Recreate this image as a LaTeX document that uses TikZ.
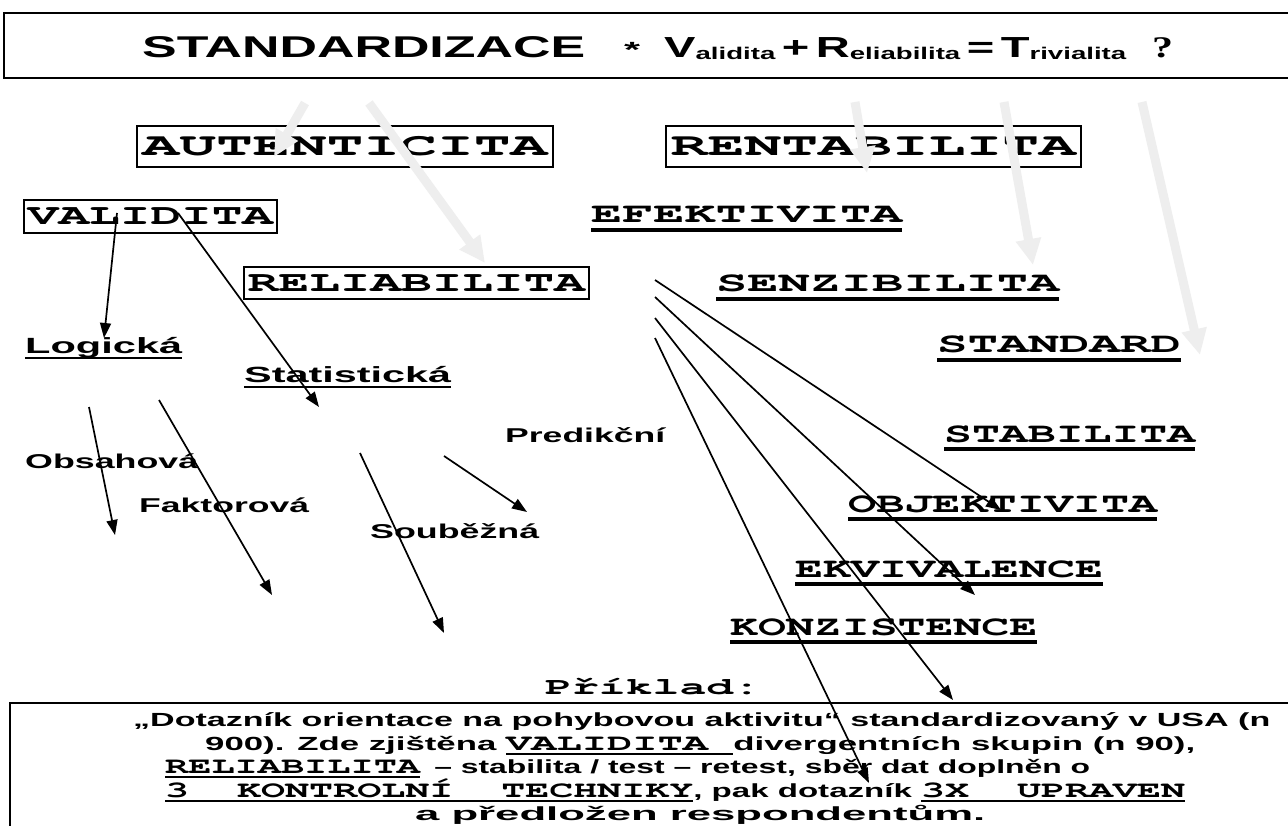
\documentclass[tikz,border=0pt]{standalone}
\usepackage{fontspec}
\setmainfont{Liberation Sans}
\newfontfamily\cour{texgyrecursor}[Extension=.otf, UprightFont=*-regular, BoldFont=*-bold]
\newfontfamily\tms{Liberation Serif}
\usepackage{graphicx}
\usetikzlibrary{arrows.meta}
\definecolor{ghostgray}{RGB}{238,238,238}
\newcommand{\fitw}[2]{\resizebox{#1}{\height}{#2}}
\newcommand{\ulx}[1]{\setbox0\hbox{#1}\rlap{\rule[-5pt]{\wd0}{2.4pt}}\box0}
\newcommand{\monoseg}[1]{{\cour\bfseries\fontsize{23}{23}\selectfont #1}}
\newcommand{\hbig}[1]{{\fontsize{29}{29}\selectfont #1}}
\newcommand{\hsub}[1]{\raisebox{-2pt}{\fontsize{17}{17}\selectfont #1}}
\tikzset{
  framed/.style ={draw, line width=1.4pt, inner sep=0pt,
                  font=\cour\bfseries\fontsize{32}{32}\selectfont},
  word/.style   ={anchor=base west, inner sep=0pt,
                  font=\bfseries\fontsize{20}{20}\selectfont},
  bigword/.style={word, font=\bfseries\fontsize{22}{22}\selectfont},
  mword/.style  ={anchor=base west, inner sep=0pt,
                  font=\cour\bfseries\fontsize{28}{28}\selectfont},
  txtline/.style={anchor=base west, inner sep=0pt,
                  font=\bfseries\fontsize{19}{19}\selectfont},
  uline/.style  ={line width=3.2pt},
  arr/.style    ={-{Triangle[length=15pt,width=11pt]}, line width=1.7pt},
  ghost/.style  ={-{Triangle[length=26pt,width=24pt]}, line width=9pt, ghostgray},
}

\begin{document}
\begin{tikzpicture}[x=1pt, y=-1pt]
  \fill[white] (0,0) rectangle (1288,826);
  \useasboundingbox (0,0) rectangle (1288,826);

  \draw[line width=1.6pt] (1295,13) -| (4,78) -- (1295,78);
  \node[word, font=\bfseries\fontsize{30}{30}\selectfont] (title) at (142,58) {\fitw{443pt}{STANDARDIZACE}};
  \node[word, font=\bfseries\fontsize{22}{22}\selectfont] (star)  at (624,58) {\fitw{16pt}{*}};
  \node[word] (formula) at (664,58)
    {\fitw{462pt}{\hbig{V}\hsub{alidita}\hspace{4pt}\hbig{+}\hspace{4pt}\hbig{R}\hsub{eliabilita}\hspace{4pt}\hbig{=}\hspace{4pt}\hbig{T}\hsub{rivialita}}};
  \node[word, font=\tms\bfseries\fontsize{30}{30}\selectfont] (qmark) at (1152,58) {\fitw{21pt}{?}};

  \node[framed, minimum width=416pt, minimum height=41pt] (auth)  at (345,146.5) {\fitw{405pt}{AUTENTICITA}};
  \node[framed, minimum width=415pt, minimum height=41pt] (rent)  at (873.5,146.5) {\fitw{405pt}{RENTABILITA}};
  \node[framed, minimum width=253pt, minimum height=33pt,
        font=\cour\bfseries\fontsize{29}{29}\selectfont] (valid) at (150.5,216.5) {\fitw{245pt}{VALIDITA}};
  \node[framed, minimum width=345pt, minimum height=32pt,
        font=\cour\bfseries\fontsize{29}{29}\selectfont] (relia) at (416.5,283) {\fitw{337pt}{RELIABILITA}};

  \node[mword] (efek) at (591,223) {\fitw{311pt}{EFEKTIVITA}};
  \node[mword] (senz) at (716,292) {\fitw{343pt}{SENZIBILITA}};
  \node[mword] (stdd) at (937,353) {\fitw{244pt}{STANDARD}};
  \node[mword] (stab) at (944,442) {\fitw{251pt}{STABILITA}};
  \node[mword] (objk) at (848,512) {\fitw{309pt}{OBJEKTIVITA}};
  \node[mword] (ekvi) at (795,577) {\fitw{308pt}{EKVIVALENCE}};
  \node[mword] (konz) at (730,635) {\fitw{307pt}{KONZISTENCE}};

  \node[bigword] (logic) at (25,353)  {\fitw{157pt}{Logická}};
  \node[bigword] (stat)  at (244,382) {\fitw{207pt}{Statistická}};
  \node[word] (pred) at (505,442) {\fitw{160pt}{Predikční}};
  \node[word] (obsa) at (25,468)  {\fitw{173pt}{Obsahová}};
  \node[word] (fakt) at (139,512) {\fitw{170pt}{Faktorová}};
  \node[word] (soub) at (370,538) {\fitw{169pt}{Souběžná}};

  \draw[uline] ([yshift=-7pt]efek.base west) -- ([yshift=-7pt]efek.base east);
  \draw[uline] ([yshift=-7pt]senz.base west) -- ([yshift=-7pt]senz.base east);
  \draw[uline] ([yshift=-7pt]stdd.base west) -- ([yshift=-7pt]stdd.base east);
  \draw[uline] ([yshift=-7pt]stab.base west) -- ([yshift=-7pt]stab.base east);
  \draw[uline] ([yshift=-7pt]objk.base west) -- ([yshift=-7pt]objk.base east);
  \draw[uline] ([yshift=-7pt]ekvi.base west) -- ([yshift=-7pt]ekvi.base east);
  \draw[uline] ([yshift=-7pt]konz.base west) -- ([yshift=-7pt]konz.base east);
  \draw[uline, line width=2.6pt] ([yshift=-5pt]logic.base west) -- ([yshift=-5pt]logic.base east);
  \draw[uline, line width=2.6pt] ([yshift=-5pt]stat.base west) -- ([yshift=-5pt]stat.base east);

  \node[mword, font=\cour\bfseries\fontsize{24}{24}\selectfont] (prikl) at (545,694) {\fitw{215pt}{Příklad:}};
  \draw[line width=1.6pt] (1295,703) -| (10,830);
  \node[txtline] (ln1) at (133,726) {\fitw{1137pt}{„Dotazník orientace na pohybovou aktivitu“ standardizovaný v USA (n}};
  \node[txtline] (ln2) at (205,750) {\fitw{990pt}{900). Zde zjištěna \ulx{\monoseg{VALIDITA }}divergentních skupin (n 90),}};
  \node[txtline] (ln3) at (165,773) {\fitw{925pt}{\ulx{\monoseg{RELIABILITA}}\ \,– stabilita / test – retest, sběr dat doplněn o}};
  \node[txtline] (ln4) at (165,797) {\fitw{1020pt}{\ulx{\monoseg{3~~KONTROLNÍ~~TECHNIKY}}, pak dotazník \ulx{\monoseg{3X~~UPRAVEN}}}};
  \node[txtline] (ln5) at (415,820) {\fitw{570pt}{a předložen respondentům.}};

  \coordinate (v1) at (117,213);  \coordinate (v1e) at (104,338);
  \coordinate (v2) at (178,213);  \coordinate (v2e) at (319,407);
  \coordinate (o1) at (89,407);   \coordinate (o1e) at (115,535);
  \coordinate (f1) at (159,400);  \coordinate (f1e) at (272,595);
  \coordinate (s1) at (360,453);  \coordinate (s1e) at (444,633);
  \coordinate (p1) at (444,456);  \coordinate (p1e) at (527,512);
  \coordinate (r1) at (655,280);  \coordinate (r1e) at (1001,510);
  \coordinate (r2) at (655,297);  \coordinate (r2e) at (975,595);
  \coordinate (r3) at (655,318);  \coordinate (r3e) at (953,700);
  \coordinate (r4) at (655,338);  \coordinate (r4e) at (869,783);

  \draw[arr] (v1) -- (v1e);
  \draw[arr] (v2) -- (v2e);
  \draw[arr] (o1) -- (o1e);
  \draw[arr] (f1) -- (f1e);
  \draw[arr] (s1) -- (s1e);
  \draw[arr] (p1) -- (p1e);
  \draw[arr] (r1) -- (r1e);
  \draw[arr] (r2) -- (r2e);
  \draw[arr] (r3) -- (r3e);
  \draw[arr] (r4) -- (r4e);

  \coordinate (g1) at (305,103);  \coordinate (g1e) at (274,157);
  \coordinate (g2) at (369,103);  \coordinate (g2e) at (485,263);
  \coordinate (g3) at (855,102);  \coordinate (g3e) at (867,173);
  \coordinate (g4) at (1004,102); \coordinate (g4e) at (1033,265);
  \coordinate (g5) at (1142,102); \coordinate (g5e) at (1200,355);

  \draw[ghost] (g1) -- (g1e);
  \draw[ghost] (g2) -- (g2e);
  \draw[ghost] (g3) -- (g3e);
  \draw[ghost] (g4) -- (g4e);
  \draw[ghost] (g5) -- (g5e);
\end{tikzpicture}
\end{document}
